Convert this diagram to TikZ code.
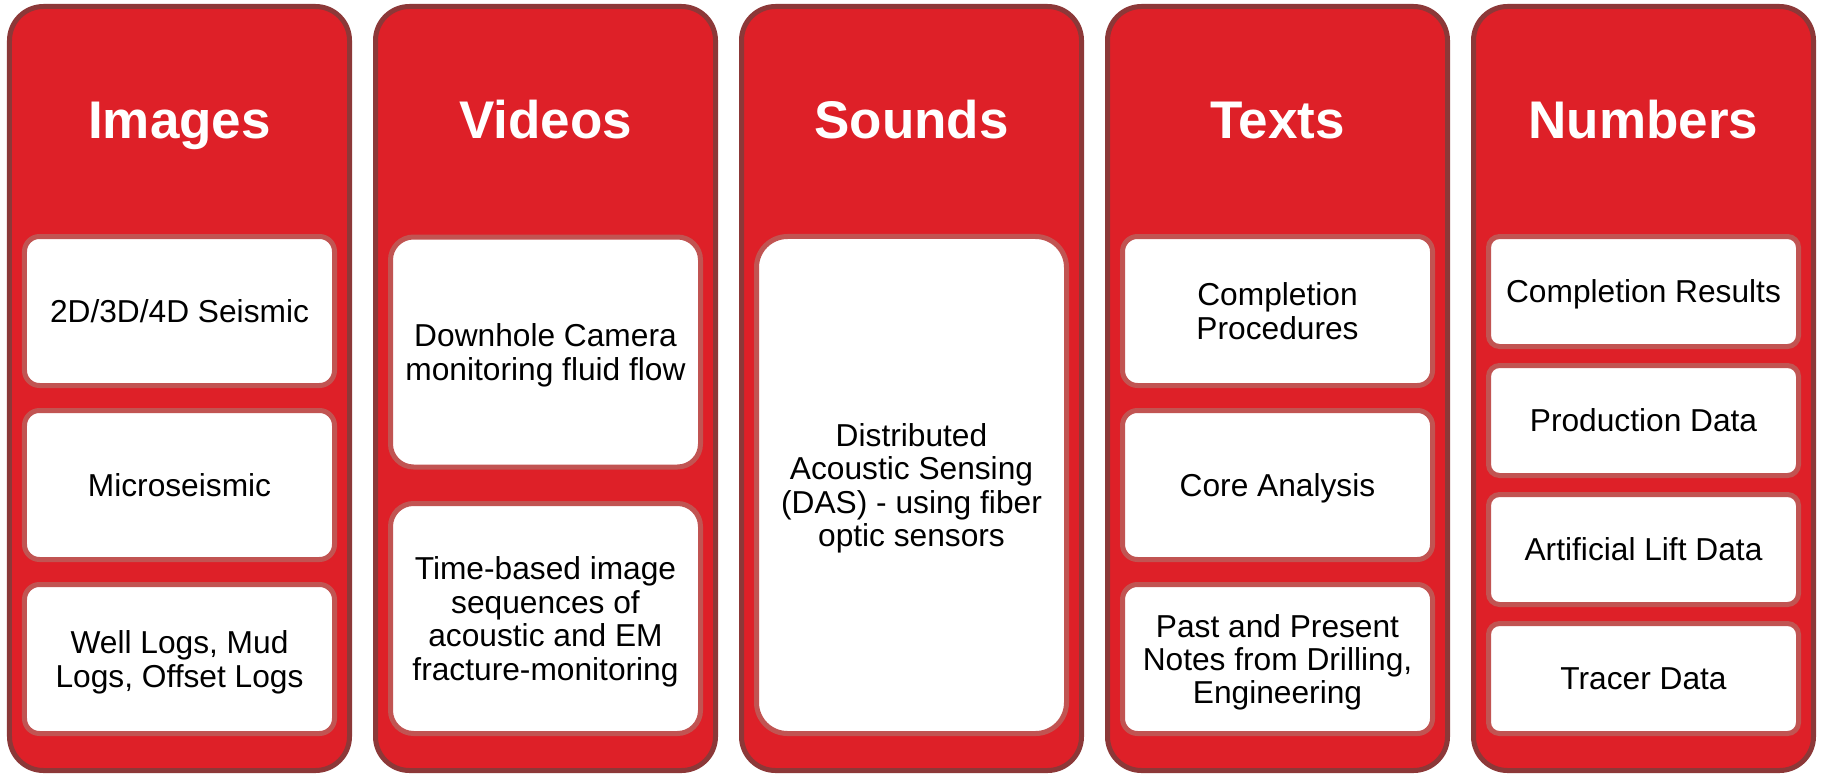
\documentclass[tikz,border=0pt]{standalone}
\usepackage{fontspec}
\setmainfont{Liberation Sans}
\definecolor{colfill}{RGB}{222,32,40}
\definecolor{colline}{RGB}{140,56,56}
\definecolor{boxline}{RGB}{193,84,82}
\begin{document}
\begin{tikzpicture}[x=1bp,y=-1bp,
  column/.style={draw=colline, fill=colfill, line width=5bp, rounded corners=34bp,
    minimum width=340bp, minimum height=764bp, inner sep=0pt},
  heading/.style={text=white, font=\fontsize{53bp}{60bp}\selectfont\bfseries, inner sep=0pt, anchor=base},
  itembox/.style={draw=boxline, fill=white, line width=5bp, minimum width=310bp,
    inner sep=0pt, align=center, text=black, font=\fontsize{31.7bp}{33.4bp}\selectfont},
  one/.style={text height=22.7bp, text depth=0bp},
  multi/.style={text depth=0bp},
  r1/.style={itembox, minimum height=149bp, rounded corners=15bp},
  r2/.style={itembox, minimum height=230bp, rounded corners=23bp},
  r3/.style={itembox, minimum height=497bp, rounded corners=31bp},
  r5/.style={itembox, minimum height=110bp, rounded corners=11bp}]
\useasboundingbox (0,0) rectangle (1822,774);
% columns
\node[column] (c1) at (179.5,388.5) {};
\node[column] (c2) at (545.5,388.5) {};
\node[column] (c3) at (911.5,388.5) {};
\node[column] (c4) at (1277.5,388.5) {};
\node[column] (c5) at (1643.5,388.5) {};
% headings
\node[heading] (h1) at (179.5,138) {Images};
\node[heading] (h2) at (545.5,138) {Videos};
\node[heading] (h3) at (911.5,138) {Sounds};
\node[heading] (h4) at (1277.5,138) {Texts};
\node[heading] (h5) at (1643.5,138) {Numbers};
% column 1
\node[r1,one] (a1) at (179.5,311) {2D/3D/4D Seismic};
\node[r1,one] (a2) at (179.5,485) {Microseismic};
\node[r1,multi] (a3) at (179.5,659) {Well Logs, Mud\\Logs, Offset Logs};
% column 2
\node[r2,multi] (b1) at (545.5,352) {Downhole Camera\\monitoring fluid flow};
\node[r2,multi] (b2) at (545.5,618.5) {Time-based image\\sequences of\\acoustic and EM\\fracture-monitoring};
% column 3
\node[r3,multi] (s1) at (911.5,485) {Distributed\\Acoustic Sensing\\(DAS) - using fiber\\optic sensors};
% column 4
\node[r1,multi] (t1) at (1277.5,311) {Completion\\Procedures};
\node[r1,one] (t2) at (1277.5,485) {Core Analysis};
\node[r1,multi] (t3) at (1277.5,659) {Past and Present\\Notes from Drilling,\\Engineering};
% column 5
\node[r5,one] (n1) at (1643.5,291.5) {Completion Results};
\node[r5,one] (n2) at (1643.5,420.5) {Production Data};
\node[r5,one] (n3) at (1643.5,549.5) {Artificial Lift Data};
\node[r5,one] (n4) at (1643.5,678.5) {Tracer Data};
\end{tikzpicture}
\end{document}
